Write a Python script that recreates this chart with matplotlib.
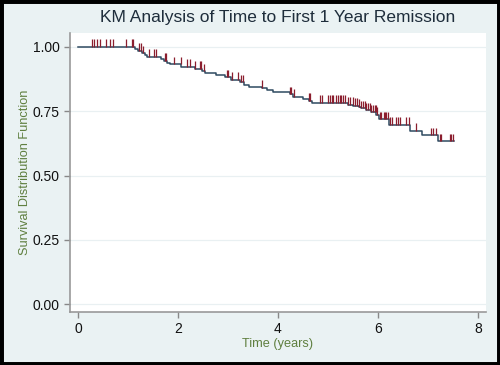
import numpy as np
import matplotlib
matplotlib.use('Agg')
import matplotlib.pyplot as plt
from matplotlib.patches import Rectangle

# KM step estimates (time in years, survival after the drop)
event_times = [0.0, 1.14, 1.20, 1.27, 1.33, 1.37, 1.66, 1.71, 1.78, 1.83,
               2.07, 2.34, 2.47, 2.55, 2.77, 2.94, 3.07, 3.24, 3.33, 3.43,
               3.67, 3.77, 3.90, 4.24, 4.31, 4.51, 4.61, 4.67, 5.40, 5.50,
               5.61, 5.67, 5.77, 5.87, 5.97, 6.02, 6.22, 6.64, 6.89, 7.21, 7.52]
survival = [1.000, 0.992, 0.984, 0.975, 0.967, 0.961, 0.953, 0.946, 0.938, 0.933,
            0.924, 0.916, 0.905, 0.899, 0.891, 0.882, 0.872, 0.862, 0.852, 0.846,
            0.840, 0.833, 0.826, 0.816, 0.807, 0.797, 0.790, 0.783, 0.776, 0.771,
            0.766, 0.761, 0.753, 0.746, 0.737, 0.719, 0.698, 0.673, 0.656, 0.633, 0.633]

censor_times = [0.27, 0.31, 0.37, 0.44, 0.55, 0.64, 0.69, 0.96, 1.07, 1.09,
                1.21, 1.25, 1.29, 1.41, 1.51, 1.56, 1.73, 1.76, 1.92, 2.06,
                2.17, 2.23, 2.34, 2.43, 2.46, 2.53, 2.97, 3.01, 3.09, 3.21,
                3.27, 3.31, 3.67, 4.24, 4.27, 4.32, 4.61, 4.63, 4.84, 4.89,
                5.01, 5.04, 5.07, 5.10, 5.17, 5.20, 5.24, 5.27, 5.30, 5.34,
                5.40, 5.44, 5.49, 5.54, 5.59, 5.63, 5.67, 5.71, 5.74, 5.77,
                5.81, 5.84, 5.87, 5.91, 5.94, 5.96, 5.99, 6.04, 6.07, 6.11,
                6.14, 6.17, 6.21, 6.25, 6.29, 6.37, 6.41, 6.44, 6.57, 6.63,
                6.76, 7.07, 7.11, 7.16, 7.24, 7.27, 7.44, 7.47, 7.51]

plt.rcParams['font.family'] = ['Liberation Sans', 'DejaVu Sans']

bg = '#eaf2f3'
green = '#5f7f3f'

fig = plt.figure(figsize=(5, 3.65), dpi=100, facecolor=bg)
fig.patches.append(Rectangle((0, 0), 1, 1, transform=fig.transFigure,
                             fill=False, edgecolor='black', linewidth=5))
ax = fig.add_axes([0.14, 0.145, 0.832, 0.765])
ax.set_facecolor('white')

ax.step(event_times, survival, where='post', color='#2e4a60', linewidth=1.1, zorder=3)

# censored observations as small vertical ticks on the curve
et = np.array(event_times)
sv = np.array(survival)
idx = np.searchsorted(et, censor_times, side='right') - 1
cy = sv[idx]
ax.vlines(censor_times, cy, cy + 0.03, color='#8b1e2e', linewidth=0.9, zorder=4)

ax.set_xlim(-0.16, 8.16)
ax.set_ylim(-0.031, 1.055)
ax.set_xticks([0, 2, 4, 6, 8])
ax.set_yticks([0, 0.25, 0.5, 0.75, 1.0])
ax.set_yticklabels(['0.00', '0.25', '0.50', '0.75', '1.00'])
ax.yaxis.grid(True, color='#e9f0f2', linewidth=0.9)
ax.set_axisbelow(True)

for s in ['top', 'right']:
    ax.spines[s].set_visible(False)
for s in ['left', 'bottom']:
    ax.spines[s].set_color('#999999')
    ax.spines[s].set_linewidth(1.2)
ax.tick_params(colors='#888888', labelcolor='#111111', labelsize=10, length=4, width=1)

ax.set_xlabel('Time (years)', color=green, fontsize=9.2, labelpad=1)
ax.set_ylabel('Survival Distribution Function', color=green, fontsize=9.2, labelpad=1)
ax.set_title('KM Analysis of Time to First 1 Year Remission', color='#1e2d3b',
             fontsize=12.5, pad=8)

fig.savefig('out.png', dpi=100, facecolor=bg)
